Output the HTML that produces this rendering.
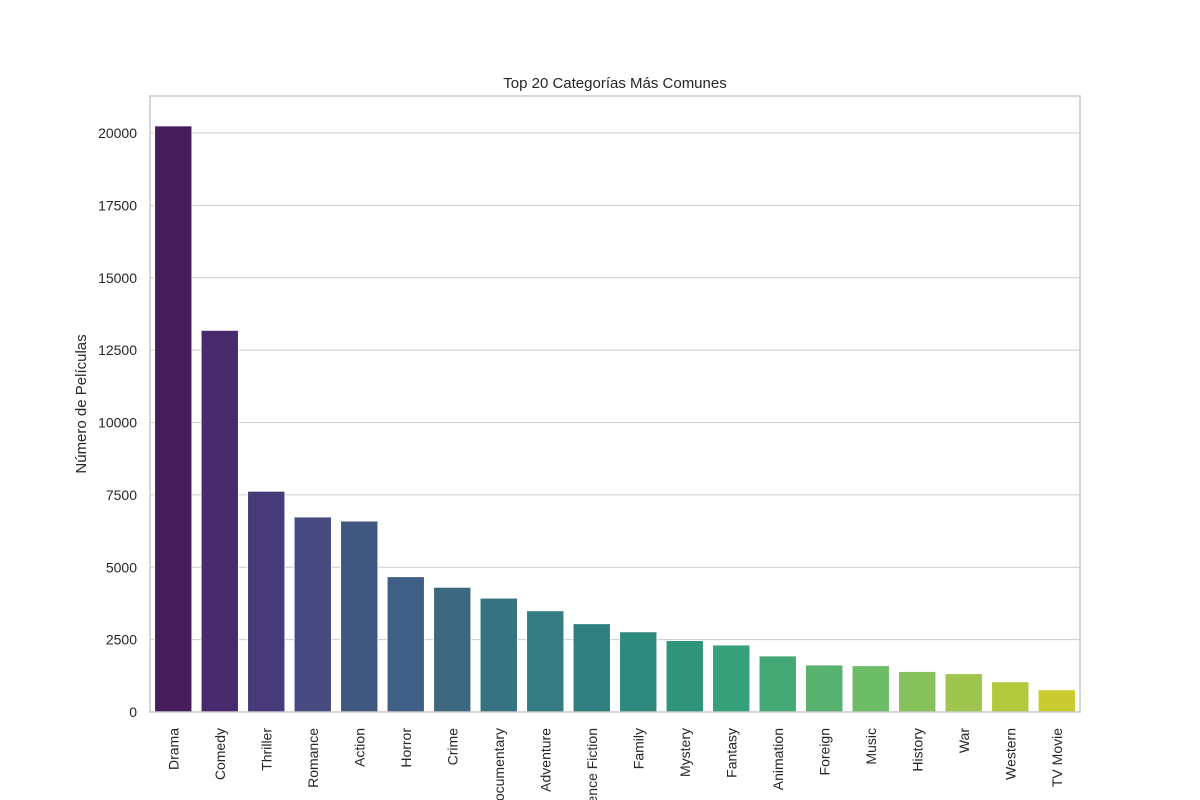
<!DOCTYPE html>
<html><head><meta charset="utf-8"><style>
body{margin:0;background:#fff;}
svg{display:block;font-family:"Liberation Sans","DejaVu Sans",sans-serif;}
</style></head><body>
<svg id="chart" width="1200" height="800">
<rect x="0" y="0" width="1200" height="800" fill="#fff"/>
<text x="615" y="88" font-size="15" text-anchor="middle" fill="#262626">Top 20 Categorías Más Comunes</text>
<text transform="translate(86,404) rotate(-90)" font-size="15" text-anchor="middle" fill="#262626">Número de Películas</text>
<g id="grid"></g><g id="bars"></g><g id="ylabels"></g><g id="xlabels"></g>
<rect x="150" y="96" width="930" height="616" fill="none" stroke="#c8c8c8" stroke-width="1.5"/>
</svg>
<script>
const categories=["Drama","Comedy","Thriller","Romance","Action","Horror","Crime","Documentary","Adventure","Science Fiction","Family","Mystery","Fantasy","Animation","Foreign","Music","History","War","Western","TV Movie"];
const counts=[20244,13182,7624,6735,6596,4673,4307,3932,3496,3049,2770,2467,2313,1935,1622,1598,1398,1323,1042,767];
const yTicks=[0,2500,5000,7500,10000,12500,15000,17500,20000];
const colors=["#471d5b","#472a6b","#463a78","#464a7e","#40577f","#3f5f86","#3c6980","#367381","#357b82","#307f80","#2e8a7d","#2f9479","#36a07a","#43a874","#56b26e","#6dbc67","#86c15c","#9fc54f","#b2c93c","#c9cc2f"];
const NS="http://www.w3.org/2000/svg";
const x0=150,x1=1080,yBase=712;
const yScale=v=>yBase-v*(712-133)/20000;
const slot=(x1-x0)/categories.length;
const xCenter=i=>x0+slot*(i+0.5);
function mk(t,a){const e=document.createElementNS(NS,t);for(const k in a)e.setAttribute(k,a[k]);return e;}
const grid=document.getElementById('grid'),yl=document.getElementById('ylabels');
yTicks.forEach(v=>{
  const l=mk('line',{x1:x0,x2:x1,y1:yScale(v),y2:yScale(v),stroke:'#cccccc','stroke-width':1.1});
  
  
  grid.appendChild(l);
  const t=mk('text',{x:137,y:yScale(v)+5,'font-size':14,'text-anchor':'end',fill:'#262626'});
  t.textContent=v;
  
  
  yl.appendChild(t);
});
const bars=document.getElementById('bars'),xl=document.getElementById('xlabels');
categories.forEach((c,i)=>{
  const w=slot*0.8;
  const r=mk('rect',{x:xCenter(i)-w/2,y:yScale(counts[i]),width:w,height:yBase-yScale(counts[i]),fill:colors[i],stroke:'#ffffff','stroke-width':0.8});
  
  
  bars.appendChild(r);
  const t=mk('text',{transform:`translate(${xCenter(i)+5},728) rotate(-90)`,'font-size':14,'text-anchor':'end',fill:'#262626'});
  t.textContent=c;
  
  
  xl.appendChild(t);
});
</script>
</body></html>
